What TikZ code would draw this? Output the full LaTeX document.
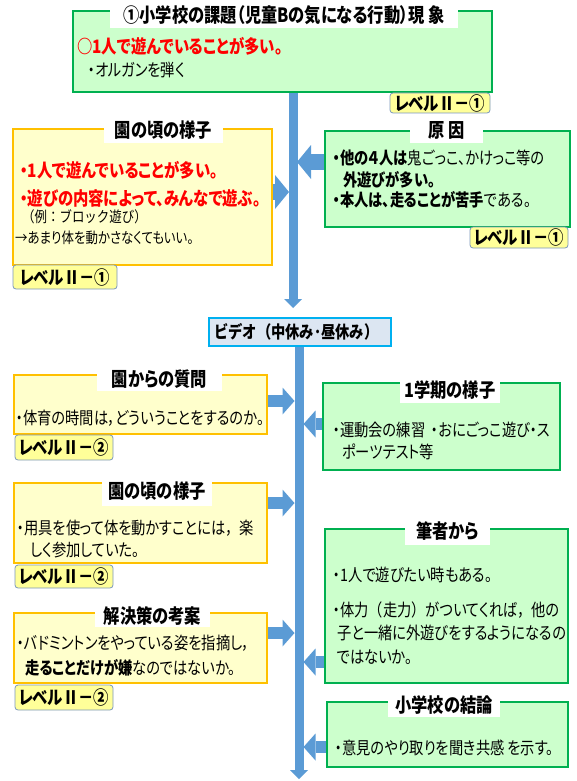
\documentclass[tikz,border=0pt]{standalone}
\usepackage{fontspec}
\setmainfont{Noto Sans CJK JP}[RawFeature=+palt,FakeStretch=0.83]
\newfontfamily\jpfw{Noto Sans CJK JP}[FakeStretch=0.83]
\usetikzlibrary{arrows.meta,calc}
\definecolor{gfill}{HTML}{CCFFCC}
\definecolor{gline}{HTML}{00B050}
\definecolor{yfill}{HTML}{FFFFCC}
\definecolor{yline}{HTML}{FFC000}
\definecolor{bfill}{HTML}{FFFF99}
\definecolor{bline}{HTML}{7A96BC}
\definecolor{spine}{HTML}{5B9BD5}
\definecolor{vfill}{HTML}{DCE6F2}
\definecolor{vline}{HTML}{00B0F0}
\definecolor{redt}{HTML}{FF0000}
\newcommand\fsT{\fontsize{19.6}{22}\selectfont}
\newcommand\fsB{\fontsize{17.2}{20}\selectfont}
\newcommand\fsR{\fontsize{18.5}{21}\selectfont}
\newcommand\fsS{\fontsize{15}{18}\selectfont}
\begin{document}
\begin{tikzpicture}[x=1pt,y=-1pt,
 gbox/.style={draw=gline,fill=gfill,line width=2pt,inner sep=0},
 ybox/.style={draw=yline,fill=yfill,line width=2pt,inner sep=0},
 ttl/.style={fill=white,inner sep=0,font=\fsT\bfseries},
 badge/.style={draw=bline,fill=bfill,rounded corners=3pt,line width=0.8pt,inner sep=0,font=\fsR\bfseries},
 txt/.style={anchor=west,inner sep=0,font=\fsB},
 redl/.style={anchor=west,inner sep=0,font=\fsR\bfseries,text=redt},
 small/.style={anchor=west,inner sep=0,font=\fsS},
 spineline/.style={draw=spine,line width=9pt,-{Triangle[width=18pt,length=9pt,line width=0pt]}},
 barrowA/.style={draw=spine,line width=16pt,-{Triangle[width=34pt,length=14pt,line width=0pt]},shorten >=4pt},
 barrowB/.style={draw=spine,line width=12pt,-{Triangle[width=27pt,length=12pt,line width=0pt]},shorten >=4.5pt},
]
\useasboundingbox (0,0) rectangle (576,781);
\coordinate (s1a) at (293,92);
\coordinate (s1b) at (293,308);
\coordinate (s2a) at (299,346);
\coordinate (s2b) at (299,779);
\draw[spineline] (s1a) -- (s1b);
\draw[spineline] (s2a) -- (s2b);
% top
\node[gbox,minimum width=419pt,minimum height=81pt] (top) at (282.5,51.5) {};
\node[ttl,minimum width=348pt,minimum height=27pt] (topT) at (284,15) {①小学校の課題（児童Bの気になる行動）現 象};
\node[redl] (top1) at (77,46) {○1人で遊んでいることが多い。};
\node[txt] (top2) at (88,70) {・オルガンを弾く};
\node[badge,minimum width=100pt,minimum height=20pt] (topL) at (440,103) {レベルⅡ－①};
% left 1
\node[ybox,minimum width=259pt,minimum height=136pt] (L1) at (142.5,197) {};
\node[ttl,minimum width=119pt,minimum height=26pt] (L1T) at (163.5,130) {園の頃の様子};
\node[redl] (L1a) at (20,170) {・1人で遊んでいることが多い。};
\node[redl] (L1b) at (20,198) {・遊びの内容によって、みんなで遊ぶ。};
\node[small,font=\fsS\jpfw] (L1c) at (22,217) {（例：ブロック遊び）};
\node[small] (L1d) at (15,238) {→あまり体を動かさなくてもいい。};
\node[badge,minimum width=104pt,minimum height=24pt] (L1L) at (65,277) {レベルⅡ－①};
% right 1
\node[gbox,minimum width=245pt,minimum height=96pt] (R1) at (447.5,179) {};
\node[ttl,minimum width=73pt,minimum height=26pt] (R1T) at (446.5,130) {原 因};
\node[txt] (R1a) at (333,158) {\textbf{・他の４人は}鬼ごっこ、かけっこ等の};
\node[txt] (R1b) at (343,180) {\textbf{外遊びが多い。}};
\node[txt] (R1c) at (333,200) {\textbf{・本人は、走ることが苦手}である。};
\node[badge,minimum width=98pt,minimum height=21pt] (R1L) at (519,237.5) {レベルⅡ－①};
% video
\node[draw=vline,fill=vfill,line width=2.5pt,minimum width=182pt,minimum height=28pt,inner sep=0] (vid) at (300,332) {};
\node[anchor=west,inner sep=0,font=\fsB\jpfw\bfseries] (vidT) at (214,332) {ビデオ（中休み･昼休み）};
% left 2
\node[ybox,minimum width=253pt,minimum height=59pt] (L2) at (140.5,404.5) {};
\node[ttl,minimum width=125pt,minimum height=24pt] (L2T) at (159.5,379) {園からの質問};
\node[txt] (L2a) at (16,418) {・体育の時間は，どういうことをするのか。};
\node[badge,minimum width=98pt,minimum height=25pt] (L2L) at (64,447.5) {レベルⅡ－②};
% right 2
\node[gbox,minimum width=237pt,minimum height=87pt] (R2) at (441.5,426.5) {};
\node[ttl,minimum width=100pt,minimum height=25pt] (R2T) at (450,390.5) {1学期の様子};
\node[txt] (R2a) at (333,430) {・運動会の練習\hspace{6pt}・おにごっこ遊び・ス};
\node[txt] (R2b) at (342,452) {ポーツテスト等};
% left 3
\node[ybox,minimum width=253pt,minimum height=80pt] (L3) at (140.5,523) {};
\node[ttl,minimum width=110pt,minimum height=29pt] (L3T) at (157,491.5) {園の頃の様子};
\node[txt] (L3a) at (17,528) {・用具を使って体を動かすことには{\jpfw，}楽};
\node[txt] (L3b) at (30,550) {しく参加していた。};
\node[badge,minimum width=98pt,minimum height=23pt] (L3L) at (64,576.5) {レベルⅡ－②};
% right 3
\node[gbox,minimum width=243pt,minimum height=154pt] (R3) at (446.5,606) {};
\node[ttl,minimum width=85pt,minimum height=27pt] (R3T) at (447.5,531.5) {筆者から};
\node[txt] (R3a) at (333,575) {・1人で遊びたい時もある。};
\node[txt] (R3b) at (333,610) {・体力{\jpfw（}走力{\jpfw）}がついてくれば{\jpfw，}他の};
\node[txt] (R3c) at (337,633) {子と一緒に外遊びをするようになるの};
\node[txt] (R3d) at (337,657) {ではないか。};
% left 4
\node[ybox,minimum width=253pt,minimum height=70pt] (L4) at (140.5,648) {};
\node[ttl,minimum width=115pt,minimum height=22pt] (L4T) at (152.5,616) {解決策の考案};
\node[txt] (L4a) at (17,643) {・バドミントンをやっている姿を指摘し，};
\node[txt] (L4b) at (25,668) {\textbf{走ることだけが嫌}なのではないか。};
\node[badge,minimum width=98pt,minimum height=25pt] (L4L) at (64,697.5) {レベルⅡ－②};
% right 4
\node[gbox,minimum width=241pt,minimum height=65pt] (R4) at (447.5,734.5) {};
\node[ttl,minimum width=112pt,minimum height=24pt] (R4T) at (444,705) {小学校の結論};
\node[txt] (R4a) at (335,748) {・意見のやり取りを聞き共感 を示す。};
% block arrows
\draw[barrowA] ([yshift=5pt]L1.east) -- ([yshift=5pt]L1.east -| s1a);
\draw[barrowA] ([yshift=17pt]R1.west) -- ([yshift=17pt]R1.west -| s1a);
\draw[barrowB] ([yshift=3.5pt]L2.east) -- ([yshift=3.5pt]L2.east -| s2a);
\draw[barrowB] ([yshift=2.5pt]R2.west) -- ([yshift=2.5pt]R2.west -| s2a);
\draw[barrowB] ([yshift=20pt]L3.east) -- ([yshift=20pt]L3.east -| s2a);
\draw[barrowB] ([yshift=-56pt]R3.west) -- ([yshift=-56pt]R3.west -| s2a);
\draw[barrowB] ([yshift=15pt]L4.east) -- ([yshift=15pt]L4.east -| s2a);
\draw[barrowB] ([yshift=-12.5pt]R4.west) -- ([yshift=-12.5pt]R4.west -| s2a);
\end{tikzpicture}
\end{document}
